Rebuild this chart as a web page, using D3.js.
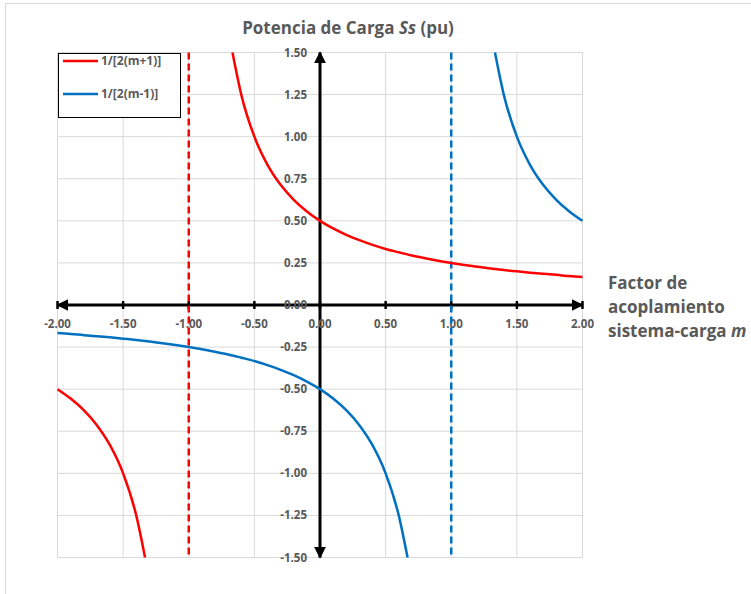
<!DOCTYPE html>
<html lang="es">
<head>
<meta charset="utf-8">
<script src="https://d3js.org/d3.v7.min.js"></script>
<style>
  body { margin: 0; background: #fff; }
  text { font-family: "Open Sans", "Liberation Sans", sans-serif; }
</style>
</head>
<body>
<div id="chart"></div>
<script>
// valores
var mRojoBajo = [-2.0, -1.9, -1.8, -1.7, -1.6, -1.5, -1.4, -1.333];
var sRojoBajo = [-0.5, -0.556, -0.625, -0.714, -0.833, -1.0, -1.25, -1.5];
var mRojoAlto = [-0.667, -0.6, -0.5, -0.4, -0.3, -0.2, -0.1, 0.0, 0.1, 0.2, 0.3, 0.4, 0.5, 0.6, 0.7, 0.8, 0.9, 1.0, 1.1, 1.2, 1.3, 1.4, 1.5, 1.6, 1.7, 1.8, 1.9, 2.0];
var sRojoAlto = [1.5, 1.25, 1.0, 0.833, 0.714, 0.625, 0.556, 0.5, 0.455, 0.417, 0.385, 0.357, 0.333, 0.313, 0.294, 0.278, 0.263, 0.25, 0.238, 0.227, 0.217, 0.208, 0.2, 0.192, 0.185, 0.179, 0.172, 0.167];
var mAzulBajo = [-2.0, -1.9, -1.8, -1.7, -1.6, -1.5, -1.4, -1.3, -1.2, -1.1, -1.0, -0.9, -0.8, -0.7, -0.6, -0.5, -0.4, -0.3, -0.2, -0.1, 0.0, 0.1, 0.2, 0.3, 0.4, 0.5, 0.6, 0.667];
var sAzulBajo = [-0.167, -0.172, -0.179, -0.185, -0.192, -0.2, -0.208, -0.217, -0.227, -0.238, -0.25, -0.263, -0.278, -0.294, -0.313, -0.333, -0.357, -0.385, -0.417, -0.455, -0.5, -0.556, -0.625, -0.714, -0.833, -1.0, -1.25, -1.5];
var mAzulAlto = [1.333, 1.4, 1.5, 1.6, 1.7, 1.8, 1.9, 2.0];
var sAzulAlto = [1.5, 1.25, 1.0, 0.833, 0.714, 0.625, 0.556, 0.5];
var asintotas = [-1, 1];
var xTicks = [-2, -1.5, -1, -0.5, 0, 0.5, 1, 1.5, 2];
var yTicks = [-1.5, -1.25, -1, -0.75, -0.5, -0.25, 0, 0.25, 0.5, 0.75, 1, 1.25, 1.5];
var series = ["1/[2(m+1)]", "1/[2(m-1)]"];
var colores = ["#ff0000", "#0070c0"];

var W = 751, H = 594;
var svg = d3.select("#chart").append("svg").attr("width", W).attr("height", H);

svg.append("rect").attr("x", 5.5).attr("y", 3.5).attr("width", 900).attr("height", 900)
  .attr("fill", "none").attr("stroke", "#d9d9d9");

var x = d3.scaleLinear().domain([-2, 2]).range([57.5, 582.5]);
var y = d3.scaleLinear().domain([-1.5, 1.5]).range([557.5, 52.5]);

// rejilla
svg.append("g").selectAll("line").data(xTicks).join("line")
  .attr("x1", d => x(d)).attr("x2", d => x(d)).attr("y1", y(1.5)).attr("y2", y(-1.5))
  .attr("stroke", "#d9d9d9");
svg.append("g").selectAll("line").data(yTicks).join("line")
  .attr("y1", d => y(d)).attr("y2", d => y(d)).attr("x1", x(-2)).attr("x2", x(2))
  .attr("stroke", "#d9d9d9");

// flechas
var defs = svg.append("defs");
defs.append("marker").attr("id", "flecha").attr("viewBox", "0 0 10 10")
  .attr("refX", 9).attr("refY", 5).attr("markerWidth", 4).attr("markerHeight", 4)
  .attr("orient", "auto-start-reverse")
  .append("path").attr("d", "M0,0 L10,5 L0,10 Z").attr("fill", "#000");

// ejes
var ax = svg.append("g");
ax.append("line").attr("x1", x(-2)).attr("x2", x(2)).attr("y1", y(0)).attr("y2", y(0))
  .attr("stroke", "#000").attr("stroke-width", 3)
  .attr("marker-start", "url(#flecha)").attr("marker-end", "url(#flecha)");
ax.append("line").attr("x1", x(0)).attr("x2", x(0)).attr("y1", y(-1.5)).attr("y2", y(1.5))
  .attr("stroke", "#000").attr("stroke-width", 3)
  .attr("marker-start", "url(#flecha)").attr("marker-end", "url(#flecha)");
// marcas del eje x
ax.selectAll(".tk").data(xTicks).join("line").attr("class", "tk")
  .attr("x1", d => x(d)).attr("x2", d => x(d)).attr("y1", y(0) - 4).attr("y2", y(0) + 4)
  .attr("stroke", "#000").attr("stroke-width", 2.5);

// etiquetas
var fmt = function (d) { return d3.format(".2f")(d).replace("\u2212", "-"); };
svg.append("g").selectAll("text").data(xTicks).join("text")
  .attr("x", d => x(d)).attr("y", y(0) + 23)
  .attr("text-anchor", "middle").attr("font-size", 11.5).attr("font-weight", "bold")
  .attr("fill", "#595959").text(d => fmt(d));
svg.append("g").selectAll("text").data(yTicks).join("text")
  .attr("x", x(0) - 13).attr("y", d => y(d) + 4)
  .attr("text-anchor", "end").attr("font-size", 11.5).attr("font-weight", "bold")
  .attr("fill", "#595959").text(d => fmt(d));

// asíntotas
svg.append("g").selectAll("line").data(asintotas).join("line")
  .attr("x1", d => x(d)).attr("x2", d => x(d)).attr("y1", y(1.5)).attr("y2", y(-1.5))
  .attr("stroke", (d, i) => colores[i]).attr("stroke-width", 2.5)
  .attr("stroke-dasharray", "7,4");

// curvas
var linea = d3.line().x(d => x(d[0])).y(d => y(d[1])).curve(d3.curveMonotoneX);
var tramos = [
  [mRojoBajo, sRojoBajo, 0], [mRojoAlto, sRojoAlto, 0],
  [mAzulBajo, sAzulBajo, 1], [mAzulAlto, sAzulAlto, 1]
];
tramos.forEach(function (t) {
  var pts = t[0].map((m, i) => [m, t[1][i]]);
  svg.append("path").attr("d", linea(pts)).attr("fill", "none")
    .attr("stroke", colores[t[2]]).attr("stroke-width", 2.5);
});

// leyenda
var lg = svg.append("g");
lg.append("rect").attr("x", 58.5).attr("y", 53.5).attr("width", 122).attr("height", 64)
  .attr("fill", "#fff").attr("stroke", "#000");
series.forEach(function (s, i) {
  var yy = 61 + i * 33;
  lg.append("line").attr("x1", 63).attr("x2", 98).attr("y1", yy).attr("y2", yy)
    .attr("stroke", colores[i]).attr("stroke-width", 2.5);
  lg.append("text").attr("x", 101).attr("y", yy + 4).attr("font-size", 12)
    .attr("font-weight", "bold").attr("fill", "#595959").text(s);
});

// títulos
var t1 = svg.append("text").attr("x", 348).attr("y", 34).attr("text-anchor", "middle")
  .attr("font-size", 17).attr("font-weight", "bold").attr("fill", "#595959");
t1.append("tspan").text("Potencia de Carga ");
t1.append("tspan").attr("font-style", "italic").text("Ss");
t1.append("tspan").text(" (pu)");

var t2 = svg.append("text").attr("font-size", 17).attr("font-weight", "bold").attr("fill", "#595959");
t2.append("tspan").attr("x", 608).attr("y", 289).text("Factor de");
t2.append("tspan").attr("x", 608).attr("y", 313).text("acoplamiento");
t2.append("tspan").attr("x", 608).attr("y", 337).text("sistema-carga ");
t2.append("tspan").attr("font-style", "italic").text("m");
</script>
</body>
</html>
